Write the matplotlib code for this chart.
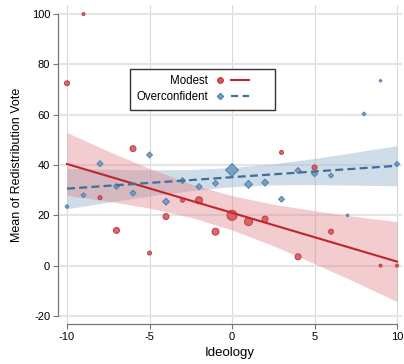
import matplotlib
matplotlib.use("Agg")
import matplotlib.pyplot as plt
from matplotlib.lines import Line2D
from matplotlib.legend_handler import HandlerTuple

plt.rcParams["font.family"] = ["Liberation Sans", "DejaVu Sans"]
plt.rcParams["axes.unicode_minus"] = False

# ------------------------------------------
# Data
# ------------------------------------------

modest_x = [-10, -9, -8, -7, -6, -5, -4, -3, -2, -1, 0, 1, 2, 3, 4, 5, 6, 9, 10]
modest_y = [72.5, 100, 27, 14, 46.5, 5, 19.5, 26, 26, 13.5, 20, 17.5, 18.5, 45, 3.5, 39, 13.5, 0, 0]
modest_size = [5, 3, 4, 6, 6, 4, 6, 4, 7, 7, 10, 8, 6, 4, 6, 5, 5, 3, 3]  # marker diameter, px

over_x = [-10, -9, -8, -7, -6, -5, -4, -3, -2, -1, 0, 1, 2, 3, 4, 5, 6, 7, 8, 9, 10]
over_y = [23.5, 28, 40.5, 31.5, 28.8, 44, 25.4, 33.8, 31.4, 32.7, 38, 32.3, 33, 26.4,
          37.8, 36.5, 35.8, 20, 60.3, 73.5, 40.4]
over_size = [4, 5, 6, 6, 6, 6, 7, 6, 6, 6, 13, 8, 7, 6, 6, 6, 5, 3, 4, 3, 5]

# fitted lines with 95% CI, read at these ideology values
fit_x = [-10, -7.5, -5, -2.5, 0, 2.5, 5, 7.5, 10]
modest_fit = [40.4, 35.55, 30.7, 25.85, 21.0, 16.15, 11.3, 6.45, 1.6]
modest_hi = [52.9, 45.5, 38.6, 32.5, 27.8, 24.4, 21.8, 19.5, 17.5]
modest_lo = [27.9, 25.6, 22.9, 19.2, 14.2, 7.9, 0.8, -6.6, -14.3]
over_fit = [30.6, 31.74, 32.88, 34.01, 35.15, 36.29, 37.43, 38.56, 39.7]
over_hi = [38.6, 38.3, 38.1, 38.2, 39.0, 40.5, 42.6, 45.1, 47.7]
over_lo = [22.6, 25.2, 27.7, 29.8, 31.4, 32.1, 32.2, 32.0, 31.7]

x_ticks = [-10, -5, 0, 5, 10]
y_ticks = [-20, 0, 20, 40, 60, 80, 100]

red_fill, red_edge, red_line = "#d9565c", "#b8333a", "#c1252b"
blue_fill, blue_edge, blue_line = "#6d9bc4", "#4a7aa6", "#3e6e9c"

# ------------------------------------------
# Plot
# ------------------------------------------

fig = plt.figure(figsize=(4.04, 3.64), dpi=100)
ax = fig.add_axes([58 / 404, 40 / 364, 344 / 404, 319 / 364])

ax.fill_between(fit_x, over_lo, over_hi, color="#a9c1d6", alpha=0.55, lw=0, zorder=1)
ax.fill_between(fit_x, modest_lo, modest_hi, color="#df7b80", alpha=0.38, lw=0, zorder=1)

ax.scatter(modest_x, modest_y, s=[(0.72 * d) ** 2 for d in modest_size],
           color=red_fill, edgecolor=red_edge, linewidth=0.7, alpha=0.9, zorder=3)
ax.scatter(over_x, over_y, s=[0.26 * d ** 2 for d in over_size], marker="D",
           color=blue_fill, edgecolor=blue_edge, linewidth=0.7, alpha=0.9, zorder=3)

ax.plot(fit_x, modest_fit, color=red_line, lw=1.5, zorder=4)
ax.plot(fit_x, over_fit, color=blue_line, lw=1.6, dashes=(3.6, 1.9), zorder=4)

ax.set_xlim(-10.545, 10.30)
ax.set_ylim(-23.2, 103.6)
ax.set_xticks(x_ticks)
ax.set_yticks(y_ticks)
ax.set_xticklabels([str(t) for t in x_ticks])
ax.set_yticklabels([str(t) for t in y_ticks])

ax.yaxis.grid(True, color="#e4e4e4", lw=1.5, zorder=0)
ax.xaxis.grid(True, color="#dadada", lw=0.8, zorder=0)
ax.set_axisbelow(True)

for side in ["top", "right"]:
    ax.spines[side].set_visible(False)
for side in ["left", "bottom"]:
    ax.spines[side].set_color("#777777")
    ax.spines[side].set_linewidth(0.9)
ax.spines["left"].set_bounds(-20, 100)
ax.spines["bottom"].set_bounds(-10, 10)
ax.tick_params(direction="out", length=3.6, width=0.8, color="#777777",
               labelsize=8, pad=2)

ax.set_xlabel("Ideology", fontsize=9.5, labelpad=4)
ax.set_ylabel("Mean of Redistribution Vote", fontsize=9, labelpad=6)

# legend: label, then marker, then line
blank = Line2D([], [], linestyle="none")
h_mod = (Line2D([], [], linestyle="none", marker="o", markersize=4.2,
                markerfacecolor=red_fill, markeredgecolor=red_edge, markeredgewidth=0.7),
         Line2D([], [], color=red_line, lw=1.5), blank)
h_over = (Line2D([], [], linestyle="none", marker="D", markersize=3.3,
                 markerfacecolor=blue_fill, markeredgecolor=blue_edge, markeredgewidth=0.7),
          Line2D([], [], color=blue_line, lw=1.6, dashes=(3.2, 2.0)), blank)
leg = ax.legend([h_mod, h_over], ["Modest", "Overconfident"],
                handler_map={tuple: HandlerTuple(ndivide=None, pad=0.17)},
                loc="upper left", bbox_to_anchor=(0.209, 0.799), borderaxespad=0,
                markerfirst=False, fontsize=8.3, handlelength=5.0, handletextpad=0.3,
                borderpad=0.55, labelspacing=0.35, fancybox=False, framealpha=1,
                edgecolor="#333333")
leg.get_frame().set_linewidth(1.0)
leg.set_zorder(5)

fig.savefig("out.png", dpi=100)
